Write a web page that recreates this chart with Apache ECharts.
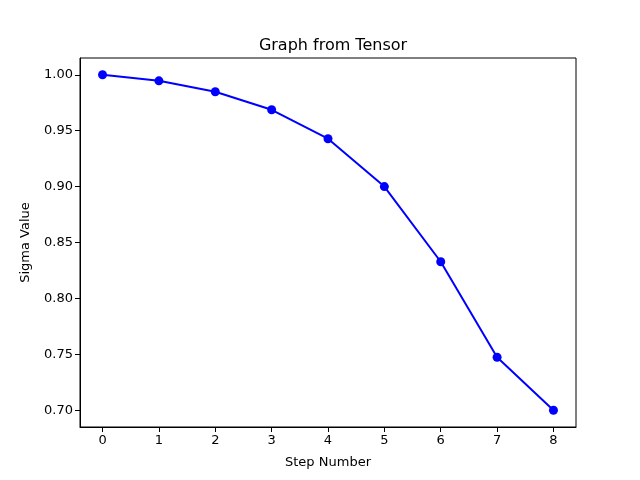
<!DOCTYPE html>
<html>
<head>
<meta charset="utf-8">
<script src="https://cdn.jsdelivr.net/npm/echarts@6/dist/echarts.min.js"></script>
<style>
  html, body { margin: 0; padding: 0; background: #fff; }
  #chart { width: 640px; height: 480px; }
</style>
</head>
<body>
<div id="chart"></div>
<script>
const steps = [0, 1, 2, 3, 4, 5, 6, 7, 8];
const sigma = [1.000, 0.9946, 0.9848, 0.9687, 0.9428, 0.900, 0.8328, 0.7474, 0.700];
const xTicks = [0, 1, 2, 3, 4, 5, 6, 7, 8];
const yTicks = [0.70, 0.75, 0.80, 0.85, 0.90, 0.95, 1.00];

const font = 'DejaVu Sans';
const chart = echarts.init(document.getElementById('chart'));

chart.setOption({
    animation: false,
    title: {
        text: 'Graph from Tensor',
        left: 328,
        top: 33,
        textAlign: 'center',
        textStyle: { fontFamily: font, fontSize: 16, fontWeight: 'normal', color: '#000' }
    },
    grid: {
        left: 80, right: 64, top: 58, bottom: 53,
        show: true, borderColor: '#000', borderWidth: 1
    },
    xAxis: {
        type: 'value',
        min: -0.4,
        max: 8.4,
        name: 'Step Number',
        nameLocation: 'middle',
        nameGap: 29,
        nameTextStyle: { fontFamily: font, fontSize: 13, color: '#000' },
        splitLine: { show: false },
        axisLine: { show: true, onZero: false, lineStyle: { color: '#000', width: 1 } },
        axisTick: { show: true, length: 5, customValues: xTicks, lineStyle: { color: '#000' } },
        axisLabel: { customValues: xTicks, fontFamily: font, fontSize: 13, color: '#000', margin: 7 }
    },
    yAxis: {
        type: 'value',
        min: 0.685,
        max: 1.015,
        name: 'Sigma Value',
        nameLocation: 'middle',
        nameGap: 48,
        nameTextStyle: { fontFamily: font, fontSize: 13, color: '#000' },
        splitLine: { show: false },
        axisLine: { show: true, onZero: false, lineStyle: { color: '#000', width: 1 } },
        axisTick: { show: true, length: 5, customValues: yTicks, lineStyle: { color: '#000' } },
        axisLabel: {
            customValues: yTicks,
            fontFamily: font, fontSize: 13, color: '#000', margin: 7,
            formatter: v => v.toFixed(2)
        }
    },
    series: [
        {
            type: 'line',
            data: steps.map((s, i) => [s, sigma[i]]),
            color: '#0000ff',
            lineStyle: { color: '#0000ff', width: 2 },
            symbol: 'circle',
            symbolSize: 9,
            itemStyle: { color: '#0000ff' }
        }
    ]
});
</script>
</body>
</html>
